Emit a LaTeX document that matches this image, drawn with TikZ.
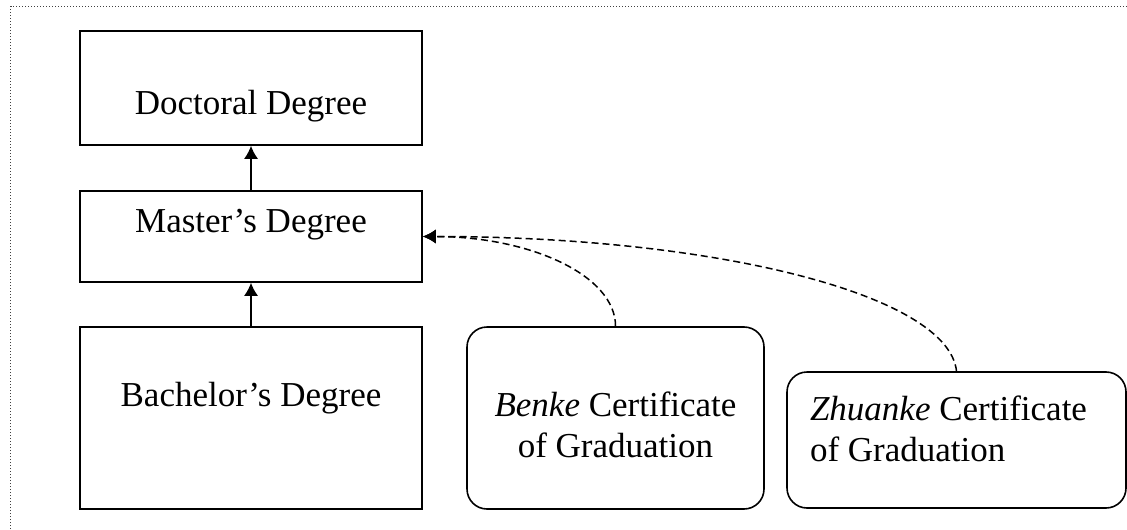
\documentclass[tikz,border=0pt]{standalone}
\usepackage{fontspec}
\setmainfont{Liberation Serif}
\usetikzlibrary{arrows.meta}

\begin{document}
\begin{tikzpicture}[
  x=0.5pt, y=-0.5pt,
  deg/.style={
    draw, line width=0.8pt, inner xsep=0pt, inner ysep=0pt,
    font=\fontsize{17.5}{20.5}\selectfont
  },
  cert/.style={
    deg, rounded corners=10pt
  },
  up/.style={
    -{Latex[length=6.5pt,width=7pt]}, line width=0.8pt
  },
  link/.style={
    up, line width=0.75pt, dash pattern=on 3.5pt off 2pt
  }
]
  \useasboundingbox (0,0) rectangle (1127,529);
  \draw[line width=0.5pt, black!75, dash pattern=on 0.5pt off 1pt]
    (10.5,529) -- (10.5,6.5) -- (1127,6.5);
  \node[deg, minimum width=171pt, text height=42pt, text depth=15pt]
    (doc) at (251,88) {Doctoral Degree};
  \node[deg, minimum width=171pt, text height=20.5pt, text depth=25pt]
    (mas) at (251,236.5) {Master's Degree};
  \node[deg, minimum width=171pt, text height=39.5pt, text depth=51.5pt]
    (bach) at (251,418) {Bachelor's Degree};
  \node[cert, align=center, minimum width=148.5pt, text height=65pt, text depth=26pt]
    (benke) at (615.5,418) {\textit{Benke} Certificate\\of Graduation};
  \node[cert, align=flush left, text width=146.5pt, minimum width=169.5pt, text height=24pt, text depth=44pt]
    (zhuanke) at (956.5,440) {\textit{Zhuanke} Certificate\\of Graduation};
  \draw[up] (mas) -- (doc);
  \draw[up] (bach) -- (mas);
  \draw[link] (benke.north) .. controls +(0,-51) and +(107,0) .. (mas.east);
  \draw[link] (zhuanke.north) .. controls +(-8,-76) and +(295,0) .. (mas.east);
\end{tikzpicture}
\end{document}
